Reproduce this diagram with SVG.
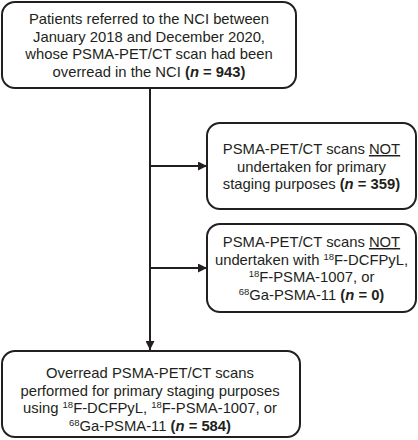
<svg xmlns="http://www.w3.org/2000/svg" width="418" height="440" viewBox="0 0 418 440">
<style>
.box{fill:#fff;stroke:#231f20;stroke-width:2}
.t{font-family:"Liberation Sans",Arial,sans-serif;font-size:14.8px;fill:#231f20;text-anchor:middle}
.b{font-weight:bold}
.sup{font-size:9.5px}
.u{text-decoration:underline}
.c{stroke:#231f20;stroke-width:2;fill:none}
</style>
<defs>
<marker id="ah" viewBox="0 0 10 10" refX="10" refY="5" markerWidth="9" markerHeight="9" markerUnits="userSpaceOnUse" orient="auto">
<path d="M0,0 L10,5 L0,10 Z" fill="#231f20"/>
</marker>
</defs>
<rect width="418" height="440" fill="#fff"/>
<g id="connectors">
<line class="c" x1="150" y1="88" x2="150" y2="350" marker-end="url(#ah)"/>
<line class="c" x1="150" y1="166" x2="207" y2="166" marker-end="url(#ah)"/>
<line class="c" x1="150" y1="268" x2="207" y2="268" marker-end="url(#ah)"/>
</g>
<g id="node-start">
<rect class="box" x="2" y="2" width="294" height="86" rx="13"/>
<text class="t"><tspan x="149" y="24">Patients referred to the NCI between</tspan><tspan x="149" y="41.6">January 2018 and December 2020,</tspan><tspan x="149" y="59.2">whose PSMA-PET/CT scan had been</tspan><tspan x="149" y="76.8">overread in the NCI <tspan class="b">(<tspan font-style="italic">n</tspan> = 943)</tspan></tspan></text>
</g>
<g id="node-excl1">
<rect class="box" x="207" y="123" width="209" height="86" rx="13"/>
<text class="t"><tspan x="311.5" y="154">PSMA-PET/CT scans <tspan class="u">NOT</tspan></tspan><tspan x="311.5" y="171.6">undertaken for primary</tspan><tspan x="311.5" y="189.2">staging purposes <tspan class="b">(<tspan font-style="italic">n</tspan> = 359)</tspan></tspan></text>
</g>
<g id="node-excl2">
<rect class="box" x="207" y="224" width="209" height="88" rx="13"/>
<text class="t"><tspan x="311.5" y="247">PSMA-PET/CT scans <tspan class="u">NOT</tspan></tspan><tspan x="311.5" y="264.6">undertaken with <tspan class="sup" dy="-5">18</tspan><tspan dy="5">F-DCFPyL,</tspan></tspan><tspan x="311.5" y="282.2"><tspan class="sup" dy="-5">18</tspan><tspan dy="5">F-PSMA-1007, or</tspan></tspan><tspan x="311.5" y="299.8"><tspan class="sup" dy="-5">68</tspan><tspan dy="5">Ga-PSMA-11 </tspan><tspan class="b">(<tspan font-style="italic">n</tspan> = 0)</tspan></tspan></text>
</g>
<g id="node-final">
<rect class="box" x="2" y="351" width="298" height="86" rx="13"/>
<text class="t"><tspan x="150" y="378">Overread PSMA-PET/CT scans</tspan><tspan x="150" y="395.6">performed for primary staging purposes</tspan><tspan x="150" y="413.2">using <tspan class="sup" dy="-5">18</tspan><tspan dy="5">F-DCFPyL, </tspan><tspan class="sup" dy="-5">18</tspan><tspan dy="5">F-PSMA-1007, or</tspan></tspan><tspan x="150" y="430.8"><tspan class="sup" dy="-5">68</tspan><tspan dy="5">Ga-PSMA-11 </tspan><tspan class="b">(<tspan font-style="italic">n</tspan> = 584)</tspan></tspan></text>
</g>
</svg>
